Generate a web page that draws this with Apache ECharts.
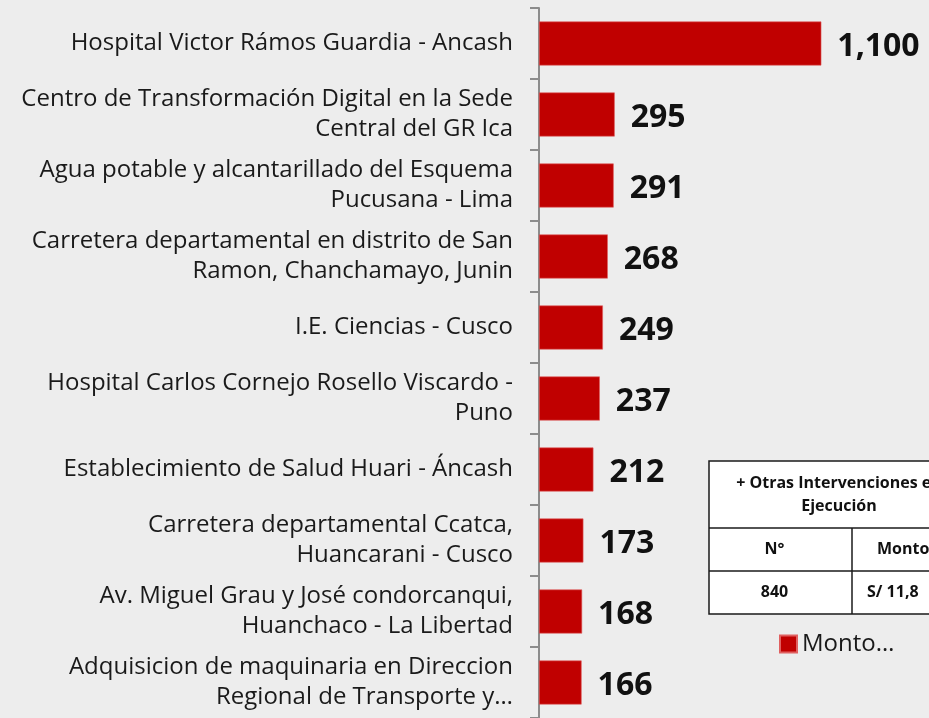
<!DOCTYPE html>
<html>
<head>
<meta charset="utf-8">
<script src="https://cdn.jsdelivr.net/npm/echarts@6/dist/echarts.min.js"></script>
<style>
  html, body { margin: 0; padding: 0; background: #ededed; }
  #chart { width: 929px; height: 718px; }
</style>
</head>
<body>
<div id="chart"></div>
<script>
var categorias = [
  'Hospital Victor Rámos Guardia - Ancash',
  'Centro de Transformación Digital en la Sede\nCentral del GR Ica',
  'Agua potable y alcantarillado del Esquema\nPucusana - Lima',
  'Carretera departamental en distrito de San\nRamon, Chanchamayo, Junin',
  'I.E. Ciencias - Cusco',
  'Hospital Carlos Cornejo Rosello Viscardo -\nPuno',
  'Establecimiento de Salud Huari - Áncash',
  'Carretera departamental Ccatca,\nHuancarani - Cusco',
  'Av. Miguel Grau y José condorcanqui,\nHuanchaco - La Libertad',
  'Adquisicion de maquinaria en Direccion\nRegional de Transporte y…'
];
var montos = [1100, 295, 291, 268, 249, 237, 212, 173, 168, 166];

// tabla de otras intervenciones
var tablaTitulo = '+ Otras Intervenciones en\nEjecución';
var tablaCols = ['N°', 'Monto'];
var tablaFila = ['840', 'S/ 11,8'];

var fuente = '"Open Sans", Lato, sans-serif';
var chart = echarts.init(document.getElementById('chart'));

var tx = 709, tw = 260, colX = 852;
var r0 = 461, r1 = 528, r2 = 571, r3 = 614;
var linea = { stroke: '#1a1a1a', lineWidth: 1.5 };

chart.setOption({
  backgroundColor: '#ededed',
  animation: false,
  grid: { left: 539, right: 82, top: 8, bottom: 0 },
  legend: {
    left: 774, top: 627,
    icon: 'rect', itemWidth: 17, itemHeight: 17, itemGap: 6,
    textStyle: { fontFamily: fuente, fontSize: 24, color: '#1a1a1a' },
    data: ['Monto…']
  },
  xAxis: { type: 'value', min: 0, max: 1200, show: false },
  yAxis: {
    type: 'category',
    inverse: true,
    data: categorias,
    axisLine: { show: true, lineStyle: { color: '#8c8c8c', width: 2 } },
    axisTick: { show: true, length: 9, lineStyle: { color: '#8c8c8c', width: 2 } },
    axisLabel: {
      margin: 26, fontFamily: fuente, fontSize: 24, color: '#1a1a1a',
      lineHeight: 30, align: 'right', padding: [4, 0, 0, 0]
    }
  },
  series: [{
    name: 'Monto…',
    type: 'bar',
    data: montos,
    barCategoryGap: '38%',
    itemStyle: { color: '#c00000', borderColor: '#e06060', borderWidth: 0.6 },
    label: {
      show: true, position: 'right', distance: 16, offset: [0, 3],
      fontFamily: fuente, fontWeight: 'bold', fontSize: 32, color: '#111',
      formatter: function (p) { return p.value.toLocaleString('en-US'); }
    }
  }],
  graphic: [
    { type: 'rect', shape: { x: tx, y: r0, width: tw, height: r3 - r0 }, style: { fill: '#fff', stroke: '#1a1a1a', lineWidth: 1.5 } },
    { type: 'line', shape: { x1: tx, y1: r1, x2: tx + tw, y2: r1 }, style: linea },
    { type: 'line', shape: { x1: tx, y1: r2, x2: tx + tw, y2: r2 }, style: linea },
    { type: 'line', shape: { x1: colX, y1: r1, x2: colX, y2: r3 }, style: linea },
    { type: 'text', x: tx + tw / 2, y: (r0 + r1) / 2, style: { text: tablaTitulo, fill: '#111', font: 'bold 16px ' + fuente, align: 'center', verticalAlign: 'middle', lineHeight: 23 } },
    { type: 'text', x: (tx + colX) / 2 - 6, y: (r1 + r2) / 2, style: { text: tablaCols[0], fill: '#111', font: 'bold 16px ' + fuente, align: 'center', verticalAlign: 'middle' } },
    { type: 'text', x: 877, y: (r1 + r2) / 2, style: { text: tablaCols[1], fill: '#111', font: 'bold 16px ' + fuente, align: 'left', verticalAlign: 'middle' } },
    { type: 'text', x: (tx + colX) / 2 - 6, y: (r2 + r3) / 2, style: { text: tablaFila[0], fill: '#111', font: 'bold 16px ' + fuente, align: 'center', verticalAlign: 'middle' } },
    { type: 'text', x: 867, y: (r2 + r3) / 2, style: { text: tablaFila[1], fill: '#111', font: 'bold 16px ' + fuente, align: 'left', verticalAlign: 'middle' } }
  ]
});
</script>
</body>
</html>
